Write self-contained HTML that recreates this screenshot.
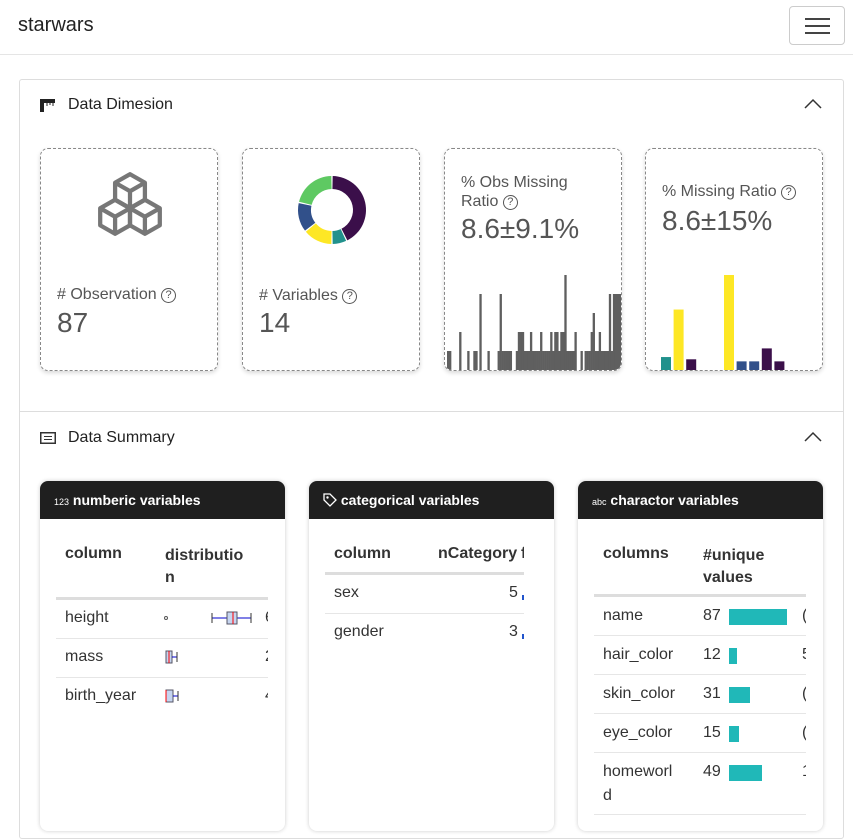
<!DOCTYPE html>
<html><head><meta charset="utf-8">
<style>
*{box-sizing:border-box;margin:0;padding:0}
body{width:853px;height:822px;overflow:hidden;background:#fff;font-family:"Liberation Sans",sans-serif;color:#333;position:relative}
.abs{position:absolute}
.card{position:absolute;top:148px;width:178px;height:223px;border:1px dashed #888;border-radius:8px;box-shadow:0 2px 4px rgba(0,0,0,.15);background:#fff}
.lbl{position:absolute;font-size:16px;color:#555}
.big{position:absolute;font-size:28px;color:#555}
.q{display:inline-block;width:15px;height:15px;border:1px solid #555;border-radius:50%;font-size:11px;text-align:center;line-height:13px;vertical-align:1px}
.tcard{position:absolute;top:481px;width:245px;height:350px;border-radius:8px;box-shadow:0 0 4px rgba(0,0,0,.2);background:#fff;overflow:hidden}
.thead{height:38px;background:#1f1f1f;color:#fff;font-weight:bold;font-size:14px;padding:11px 14px}
.tbl{position:absolute;left:16px;font-size:16px;color:#333}
.row{position:absolute;left:0;height:39px;border-bottom:1px solid #e6e6e6}
.row span{line-height:24px}
</style></head><body>
<div class="abs" style="left:18px;top:14px;font-size:20px;color:#222">starwars</div>
<div class="abs" style="left:789px;top:6px;width:56px;height:39px;border:1px solid #ccc;border-radius:4px">
<div class="abs" style="left:15px;top:11px;width:25px;height:2px;background:#444"></div>
<div class="abs" style="left:15px;top:18px;width:25px;height:2px;background:#444"></div>
<div class="abs" style="left:15px;top:25px;width:25px;height:2px;background:#444"></div></div>
<div class="abs" style="left:0;top:54px;width:853px;height:1px;background:#e5e5e5"></div>
<div class="abs" style="left:19px;top:79px;width:825px;height:760px;border:1px solid #ddd;border-radius:3px"></div>
<svg class="abs" style="left:40px;top:99px" width="15" height="13"><rect x="0" y="0" width="4" height="13" fill="#222"/><rect x="0" y="0" width="15" height="4" fill="#222"/><line x1="7" y1="4" x2="7" y2="7" stroke="#222"/><line x1="10" y1="4" x2="10" y2="6" stroke="#222"/><line x1="13" y1="4" x2="13" y2="7" stroke="#222"/></svg>
<div class="abs" style="left:68px;top:96px;font-size:16px;color:#222">Data Dimesion</div>
<svg class="abs" style="left:804px;top:98px" width="18" height="12"><polyline points="1,10 9,2 17,10" fill="none" stroke="#333" stroke-width="1.5"/></svg>

<div class="card" style="left:40px">
<svg class="abs" style="left:56px;top:23px" width="66" height="64" viewBox="3 1 62 60" fill="none" stroke="#777" stroke-width="4" stroke-linejoin="round">
<path d="M34 3 L48 11 L48 27 L34 35 L20 27 L20 11 Z M20 11 L34 19 L48 11 M34 19 L34 35"/>
<path d="M20 27 L34 35 L34 51 L20 59 L6 51 L6 35 Z M6 35 L20 43 L34 35 M20 43 L20 59"/>
<path d="M48 27 L62 35 L62 51 L48 59 L34 51 L34 35 Z M34 35 L48 43 L62 35 M48 43 L48 59"/>
</svg>
<div class="lbl" style="left:16px;top:137px"># Observation <span class="q">?</span></div>
<div class="big" style="left:16px;top:158px">87</div></div>

<div class="card" style="left:242px">
<svg class="abs" id="donut" style="left:49px;top:21px" width="80" height="80"></svg>
<div class="lbl" style="left:16px;top:138px"># Variables <span class="q">?</span></div>
<div class="big" style="left:16px;top:158px">14</div></div>

<div class="card" style="left:444px;overflow:hidden">
<div class="lbl" style="left:16px;top:24px;line-height:19px">% Obs Missing<br>Ratio <span class="q">?</span></div>
<div class="big" style="left:16px;top:64px">8.6±9.1%</div>
<svg class="abs" id="obsbars" style="left:2px;top:120px" width="176" height="102"></svg></div>

<div class="card" style="left:645px;overflow:hidden">
<div class="lbl" style="left:16px;top:34px">% Missing Ratio <span class="q">?</span></div>
<div class="big" style="left:16px;top:56px">8.6±15%</div>
<svg class="abs" id="varbars" style="left:0;top:120px" width="178" height="102"></svg></div>

<div class="abs" style="left:20px;top:411px;width:823px;height:1px;background:#ddd"></div>
<svg class="abs" style="left:40px;top:432px" width="16" height="12"><rect x="0.75" y="0.75" width="14.5" height="10.5" fill="none" stroke="#333" stroke-width="1.5"/><line x1="4" y1="4.5" x2="12" y2="4.5" stroke="#333"/><line x1="4" y1="7.5" x2="12" y2="7.5" stroke="#333"/></svg>
<div class="abs" style="left:68px;top:429px;font-size:16px;color:#222">Data Summary</div>
<svg class="abs" style="left:804px;top:431px" width="18" height="12"><polyline points="1,10 9,2 17,10" fill="none" stroke="#333" stroke-width="1.5"/></svg>

<div class="tcard" style="left:40px">
<div class="thead"><span style="font-size:9px;font-weight:normal">123</span> numberic variables</div>
<div class="tbl" style="top:62px;width:212px;height:300px;overflow:hidden">
<div class="abs" style="left:9px;top:2px;font-weight:bold">column</div>
<div class="abs" style="left:109px;top:2px;font-weight:bold;line-height:22px;width:90px">distributio<br>n</div>
<div class="abs" style="left:0;top:54px;width:222px;height:3px;background:#ddd"></div>
<div class="row" style="top:57px;width:222px"><span class="abs" style="left:9px;top:6px">height</span><span class="abs" style="left:209px;top:6px">6</span>
<svg class="abs" style="left:106px;top:8px" width="95" height="20"><circle cx="4" cy="10" r="1.5" fill="none" stroke="#555"/><line x1="50" y1="10" x2="89" y2="10" stroke="#00c" /><line x1="50" y1="5" x2="50" y2="15" stroke="#333"/><line x1="89" y1="5" x2="89" y2="15" stroke="#333"/><rect x="65" y="4" width="10" height="12" fill="#c6d5f0" stroke="#556"/><line x1="71" y1="4" x2="71" y2="16" stroke="red"/></svg></div>
<div class="row" style="top:96px;width:222px"><span class="abs" style="left:9px;top:6px">mass</span><span class="abs" style="left:209px;top:6px">2</span>
<svg class="abs" style="left:106px;top:8px" width="30" height="20"><rect x="4" y="4" width="6" height="12" fill="#c6d5f0" stroke="#556"/><line x1="7" y1="4" x2="7" y2="16" stroke="red"/><line x1="10" y1="10" x2="15" y2="10" stroke="#00c"/><line x1="15" y1="5" x2="15" y2="15" stroke="#333"/></svg></div>
<div class="row" style="top:135px;width:222px;border:none"><span class="abs" style="left:9px;top:6px">birth_year</span><span class="abs" style="left:209px;top:6px">4</span>
<svg class="abs" style="left:106px;top:8px" width="30" height="20"><rect x="4" y="4" width="7" height="12" fill="#c6d5f0" stroke="#556"/><line x1="4" y1="4" x2="4" y2="16" stroke="red"/><line x1="11" y1="10" x2="16" y2="10" stroke="#00c"/><line x1="16" y1="5" x2="16" y2="15" stroke="#333"/></svg></div>
</div></div>

<div class="tcard" style="left:309px">
<div class="thead"><svg width="14" height="14" style="vertical-align:-2px" viewBox="0 0 14 14"><path d="M1 1 L7 1 L13 7 L7 13 L1 7 Z" fill="none" stroke="#fff" stroke-width="1.3"/><circle cx="4.5" cy="4.5" r="1.2" fill="#fff"/></svg> categorical variables</div>
<div class="tbl" style="top:62px;width:199px;height:300px;overflow:hidden">
<div class="abs" style="left:9px;top:2px;font-weight:bold">column</div>
<div class="abs" style="left:113px;top:2px;font-weight:bold">nCategory</div>
<div class="abs" style="left:196px;top:2px;font-weight:bold">f</div>
<div class="abs" style="left:0;top:29px;width:199px;height:3px;background:#ddd"></div>
<div class="row" style="top:32px;width:199px"><span class="abs" style="left:9px;top:6px">sex</span><span class="abs" style="left:184px;top:6px">5</span><span class="abs" style="left:197px;top:20px;width:3px;height:5px;background:#2255cc"></span></div>
<div class="row" style="top:71px;width:199px;border:none"><span class="abs" style="left:9px;top:6px">gender</span><span class="abs" style="left:184px;top:6px">3</span><span class="abs" style="left:197px;top:20px;width:3px;height:5px;background:#2255cc"></span></div>
</div></div>

<div class="tcard" style="left:578px">
<div class="thead"><span style="font-size:9px;font-weight:normal">abc</span> charactor variables</div>
<div class="tbl" id="chartbl" style="top:62px;width:212px;height:300px;overflow:hidden">
<div class="abs" style="left:9px;top:2px;font-weight:bold">columns</div>
<div class="abs" style="left:109px;top:2px;font-weight:bold;line-height:22px">#unique<br>values</div>
<div class="abs" style="left:0;top:51px;width:212px;height:3px;background:#ddd"></div>
</div></div>

<script>
const NS="http://www.w3.org/2000/svg";
function mk(tag,attrs,parent){const e=document.createElementNS(NS,tag);for(const k in attrs)e.setAttribute(k,attrs[k]);parent.appendChild(e);return e;}
const donutTypes=["character","numeric","list","categorical","logical"];
const donutCounts=[6,1,2,2,3];
const donutColors=["#3b0f4a","#21918c","#fde725","#31508a","#5ec962"];
(function(){const svg=document.getElementById('donut');const cx=40,cy=40,R=34,r=21;const tot=donutCounts.reduce((a,b)=>a+b,0);let a0=0;
donutCounts.forEach((v,i)=>{const a1=a0+v/tot*2*Math.PI;const p=(a,rr)=>[cx+rr*Math.sin(a),cy-rr*Math.cos(a)];const g=0.02;
const [x1,y1]=p(a0+g,R),[x2,y2]=p(a1-g,R),[x3,y3]=p(a1-g,r),[x4,y4]=p(a0+g,r);const lg=(a1-a0)>Math.PI?1:0;
const el=mk('path',{d:`M${x1} ${y1} A${R} ${R} 0 ${lg} 1 ${x2} ${y2} L${x3} ${y3} A${r} ${r} 0 ${lg} 0 ${x4} ${y4} Z`,fill:donutColors[i]},svg);


a0=a1;});})();
const obsMissing=[1,1,0,0,0,0,2,0,0,0,1,0,0,1,1,0,4,0,0,0,1,0,0,0,0,1,4,1,1,1,1,1,0,0,1,2,2,2,1,1,1,2,1,1,1,1,2,1,1,1,1,2,1,2,2,1,2,2,5,1,1,1,1,2,0,0,1,0,1,1,1,2,3,1,1,2,1,1,1,1,4,1,4,4,4,4,4];
(function(){const svg=document.getElementById('obsbars');const H=101,unit=19,w=176/obsMissing.length;
obsMissing.forEach((v,i)=>{if(!v)return;const el=mk('rect',{x:i*w,y:H-v*unit,width:w+0.3,height:v*unit,fill:'#5f5f5f'},svg);

});})();
const varNames=["hair_color","skin_color","eye_color","sex","gender","birth_year","height","mass","homeworld","species","name","films","vehicles"];
const varMissing=[6.9,32.2,5.7,0,0,50.6,4.6,4.6,11.5,4.6,0,0,0];
const varColors=["#21918c","#fde725","#3b0f4a","#fde725","#fde725","#fde725","#31508a","#31508a","#3b0f4a","#3b0f4a","#3b0f4a","#3b0f4a","#3b0f4a"];
(function(){const svg=document.getElementById('varbars');const H=101,max=50.6,ph=95,step=12.6;
varMissing.forEach((v,i)=>{if(!v)return;const h=v/max*ph;const el=mk('rect',{x:15+i*step,y:H-h,width:10,height:h,fill:varColors[i]},svg);

});})();
const charCols=["name","hair_color","skin_color","eye_color","homeworl d"];
const charUnique=[87,12,31,15,49];
const charTail=["(","5","(","(","1"];
(function(){const t=document.getElementById('chartbl');let top=54;
charCols.forEach((c,i)=>{const h=c.indexOf(' ')>0?62:39;const row=document.createElement('div');row.className='row';row.style.top=top+'px';row.style.width='212px';row.style.height=h+'px';


row.innerHTML=`<span class="abs" style="left:9px;top:7px">${c.replace(' ','<br>')}</span><span class="abs" style="left:109px;top:7px">${charUnique[i]}</span><span class="abs" style="left:135px;top:12px;height:16px;width:${charUnique[i]/87*58}px;background:#20b8b8"></span><span class="abs" style="left:208px;top:7px">${charTail[i]}</span>`;
t.appendChild(row);top+=h;});})();
</script>
</body></html>
